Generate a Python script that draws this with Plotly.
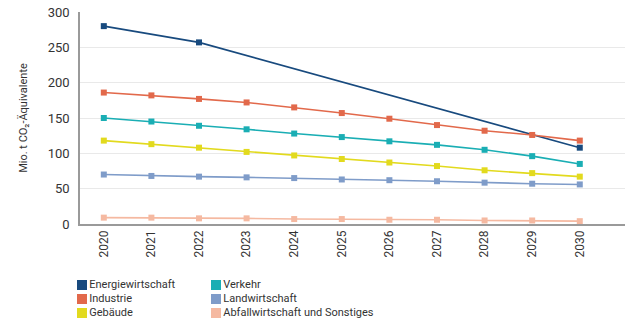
import plotly.graph_objects as go

years = [2020, 2021, 2022, 2023, 2024, 2025, 2026, 2027, 2028, 2029, 2030]
energie = [280, None, 257, None, None, None, None, None, None, None, 108]
industrie = [186, 182, 177, 172, 165, 157, 149, 140, 132, 126, 118]
verkehr = [150, 145, 139, 134, 128, 123, 117, 112, 105, 96, 85]
gebaeude = [118, 113, 108, 102, 97, 92, 87, 82, 76, 72, 67]
landwirtschaft = [70, 68, 67, 66, 65, 63, 62, 60.5, 58.5, 57, 56]
abfall = [9, 9, 8, 8, 7, 7, 6, 6, 5, 5, 4]

names = ["Energiewirtschaft", "Industrie", "Gebäude", "Verkehr", "Landwirtschaft", "Abfallwirtschaft und Sonstiges"]
values = [energie, industrie, gebaeude, verkehr, landwirtschaft, abfall]
colors = ["#184a7e", "#e2694b", "#e2da1e", "#1aaeb4", "#7f9cc9", "#f5b9a1"]
legend_col = [0, 0, 0, 1, 1, 1]
legend_row = [2, 1, 0, 2, 1, 0]

fig = go.Figure()
for name, vals, col in zip(names, values, colors):
    fig.add_trace(go.Scatter(x=years, y=vals, mode="lines+markers", name=name,
                             connectgaps=True, showlegend=False,
                             line=dict(color=col, width=1.6),
                             marker=dict(symbol="square", size=6, color=col)))

# legend drawn as a small scatter on its own axes below the chart
fig.add_trace(go.Scatter(x=legend_col, y=legend_row, mode="markers+text",
                         text=names, textposition="middle right",
                         textfont=dict(size=11, color="#333333"),
                         marker=dict(symbol="square", size=10, color=colors),
                         xaxis="x2", yaxis="y2", showlegend=False, hoverinfo="skip",
                         cliponaxis=False))

fig.update_layout(
    width=625, height=320,
    margin=dict(l=80, r=0, t=12, b=0, autoexpand=False),
    paper_bgcolor="white", plot_bgcolor="white",
    showlegend=False,
    font=dict(family="Roboto, Arial, sans-serif", color="#333333"),
    xaxis=dict(range=[2019.5, 2030.95], tickmode="array", tickvals=years,
               ticktext=[str(y) for y in years], tickangle=-90,
               tickfont=dict(size=12, color="#333333"), automargin=False,
               showgrid=False, showline=True, linecolor="#9a9a9a", linewidth=1.5,
               ticks="", zeroline=False, anchor="y"),
    yaxis=dict(domain=[96 / 308, 1.0], range=[0, 300], tickvals=[0, 50, 100, 150, 200, 250, 300],
               tickfont=dict(size=13, color="#333333"), automargin=False,
               showgrid=True, gridcolor="#e9e9e9", gridwidth=1,
               showline=True, linecolor="#9a9a9a", linewidth=1.5,
               zeroline=False, ticks="", ticklabelstandoff=6,
               title=dict(text="Mio. t CO₂-Äquivalente", font=dict(size=11, color="#333333"), standoff=18)),
    xaxis2=dict(domain=[0, 1], range=[-2 / 134, -2 / 134 + 545 / 134], visible=False,
                anchor="y2", automargin=False),
    yaxis2=dict(domain=[0, 0.25], range=[-0.5, 5.0], visible=False, anchor="x2", automargin=False),
)

fig.write_html("out.html")
